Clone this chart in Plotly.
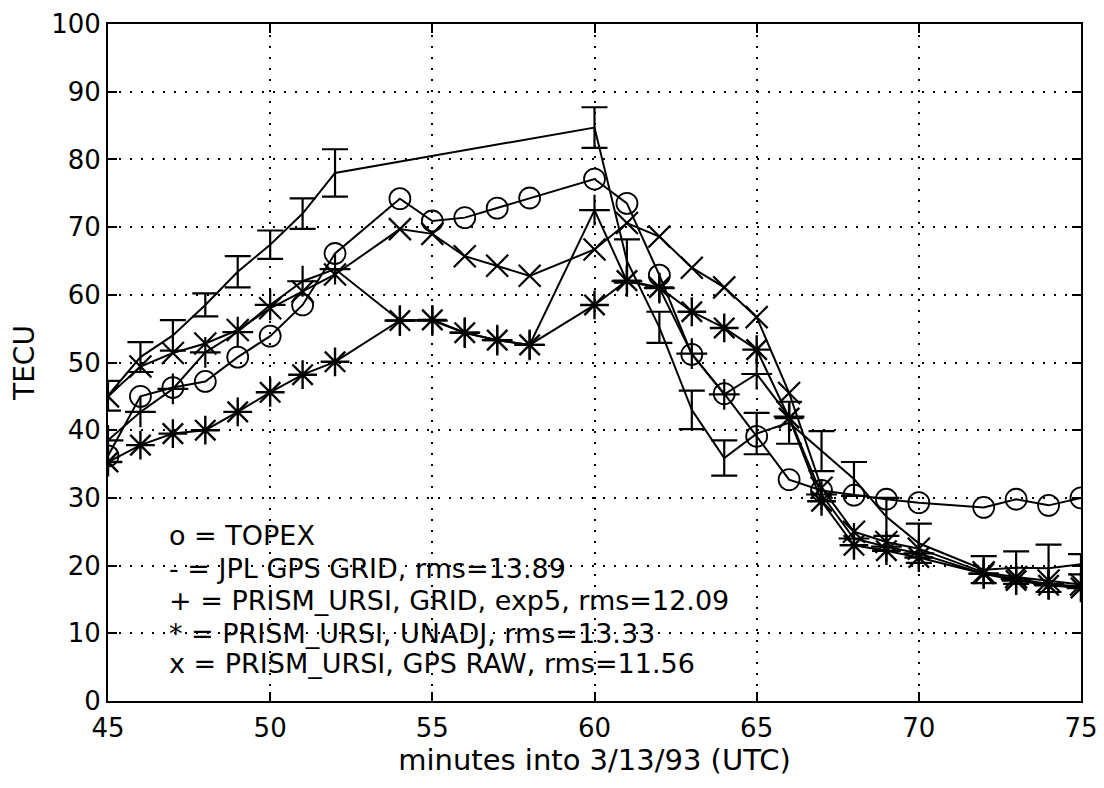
import plotly.graph_objects as go

# ---------------- data ----------------
topex_x = [45, 46, 47, 48, 49, 50, 51, 52, 54, 55, 56, 57, 58, 60, 61, 62, 63, 64, 65, 66, 67, 68, 69, 70, 72, 73, 74, 75]
topex_y = [36.2, 45.0, 46.3, 47.2, 50.8, 53.9, 58.5, 66.1, 74.2, 70.9, 71.4, 72.8, 74.3, 77.1, 73.5, 62.9, 51.2, 45.4,
           39.1, 32.7, 31.1, 30.4, 29.8, 29.3, 28.6, 29.8, 28.9, 30.0]

jpl_x = [45, 46, 47, 48, 49, 50, 51, 52, 60, 61, 62, 63, 64, 65, 66, 67, 68, 69, 70, 72, 73, 74, 75]
jpl_y = [45.1, 50.8, 54.0, 58.5, 63.4, 67.4, 72.0, 78.0, 84.7, 65.0, 55.2, 43.0, 35.9, 39.5, 41.1, 36.9, 32.8, 27.2,
         23.3, 19.4, 19.7, 19.6, 20.2]
jpl_err = [2.2, 2.2, 2.25, 1.7, 2.3, 2.1, 2.25, 3.5, 3.0, 3.2, 2.3, 2.85, 2.6, 3.05, 3.1, 2.95, 2.5, 2.8, 2.9, 2.0,
           2.4, 3.5, 1.5]

prism_x = [45, 46, 47, 48, 49, 50, 51, 52, 54, 55, 56, 57, 58, 60, 61, 62, 63, 64, 65, 66, 67, 68, 69, 70, 72, 73, 74, 75]
grid_y = [38.5, 42.7, 46.1, 51.5, 54.5, 58.5, 62.0, 63.8, 56.2, 56.2, 54.4, 53.3, 52.6, 72.5, 62.0, 61.0, 51.3, 45.3,
          48.3, 42.0, 30.5, 24.0, 22.8, 21.8, 18.8, 18.0, 17.3, 16.9]
unadj_y = [35.3, 37.8, 39.5, 40.0, 42.7, 45.6, 48.2, 50.1, 56.2, 56.3, 54.4, 53.3, 52.6, 58.5, 62.1, 61.1, 57.5, 55.1,
           51.9, 41.8, 29.5, 23.0, 22.2, 21.2, 18.8, 17.8, 17.1, 16.7]
raw_y = [45.0, 49.4, 51.4, 52.8, 54.8, 58.0, 60.5, 63.0, 69.7, 69.0, 65.7, 64.3, 62.8, 66.7, 70.6, 68.6, 64.0, 61.1,
         56.7, 45.5, 31.5, 25.0, 23.5, 22.5, 19.0, 18.3, 17.8, 17.2]

legend_lines = [
    "o = TOPEX",
    "- = JPL GPS GRID, rms=13.89",
    "+ = PRISM_URSI, GRID, exp5, rms=12.09",
    "* = PRISM_URSI, UNADJ, rms=13.33",
    "x = PRISM_URSI, GPS RAW, rms=11.56",
]
legend_y = [24.5, 19.6, 14.8, 10.0, 5.5]

x_ticks = [45, 50, 55, 60, 65, 70, 75]
y_ticks = [0, 10, 20, 30, 40, 50, 60, 70, 80, 90, 100]

FONT = "DejaVu Sans, Liberation Sans, Arial, sans-serif"
LW = 2.0

fig = go.Figure()

fig.add_trace(go.Scatter(
    x=jpl_x, y=jpl_y, mode="lines",
    line=dict(color="black", width=LW),
    error_y=dict(type="data", array=jpl_err, visible=True, color="black", thickness=2.2, width=13),
))
fig.add_trace(go.Scatter(
    x=topex_x, y=topex_y, mode="lines+markers",
    line=dict(color="black", width=LW),
    marker=dict(symbol="circle-open", size=21, color="black", line=dict(width=1.8)),
))
fig.add_trace(go.Scatter(
    x=prism_x, y=grid_y, mode="lines+markers",
    line=dict(color="black", width=LW),
    marker=dict(symbol="cross-thin-open", size=22, color="black", line=dict(width=2.2)),
))
fig.add_trace(go.Scatter(
    x=prism_x, y=unadj_y, mode="lines+markers",
    line=dict(color="black", width=LW),
    marker=dict(symbol="asterisk-open", size=24, color="black", line=dict(width=2.4)),
))
fig.add_trace(go.Scatter(
    x=prism_x, y=raw_y, mode="lines+markers",
    line=dict(color="black", width=LW),
    marker=dict(symbol="x-thin-open", size=22, color="black", line=dict(width=2.2)),
))

for txt, yy in zip(legend_lines, legend_y):
    fig.add_annotation(x=46.82, y=yy, text=txt, showarrow=False, xanchor="left", yanchor="middle",
                       font=dict(family=FONT, size=27, color="black"))

axis_common = dict(
    showline=True, linecolor="black", linewidth=2, mirror="ticks",
    ticks="inside", ticklen=9, tickwidth=1.5, tickcolor="black",
    showgrid=True, gridcolor="black", gridwidth=1.8, griddash="2px,9px",
    zeroline=False, automargin=False, ticklabeloverflow="allow",
    tickfont=dict(family=FONT, size=26, color="black"),
)

fig.update_xaxes(range=[45, 75], tickvals=x_ticks, ticktext=[str(v) for v in x_ticks],
                 ticklabelstandoff=3,
                 title=dict(text="minutes into 3/13/93 (UTC)", font=dict(family=FONT, size=29, color="black"),
                            standoff=4),
                 **axis_common)
fig.update_yaxes(range=[0, 100], tickvals=y_ticks, ticktext=[str(v) for v in y_ticks],
                 title=dict(text="TECU", font=dict(family=FONT, size=28, color="black"), standoff=10),
                 **axis_common)

# The page body adds an 8px offset; the figure is sized so that the plot area
# lands close to where the reference's does in the window, leaving room for
# the "100" tick label at the top.
fig.update_layout(
    width=1096, height=780,
    margin=dict(l=100, r=23, t=16, b=87),
    plot_bgcolor="white", paper_bgcolor="white",
    showlegend=False,
)

fig.write_html("out.html")
